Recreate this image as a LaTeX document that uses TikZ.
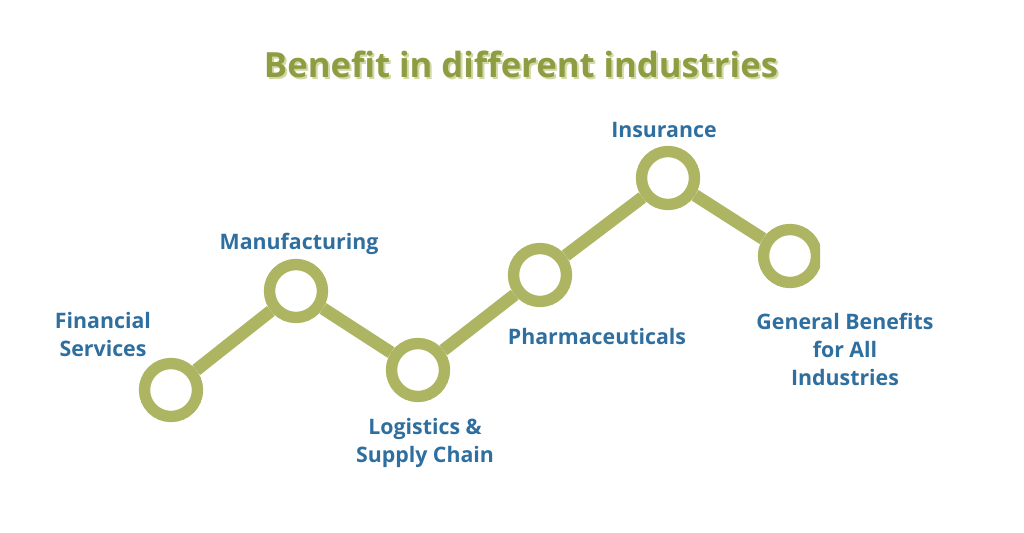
\documentclass[tikz,border=0pt]{standalone}
\usepackage{fontspec}
\setmainfont{Open Sans}
\definecolor{olive}{HTML}{ADB562}
\definecolor{titlegreen}{HTML}{8E9C42}
\definecolor{shadowgreen}{HTML}{D3D8A6}
\definecolor{labelblue}{HTML}{2F6F9F}
\tikzset{
    ring/.style={circle, draw=olive, line width=8.5pt, minimum size=39.75pt, inner sep=0pt, fill=white},
    link/.style={olive, line width=9.4pt},
    lbl/.style={text=labelblue, font=\bfseries\fontsize{16}{21}\selectfont, align=center, inner sep=0pt}
}
\begin{document}
\begin{tikzpicture}[x=0.75pt,y=-0.75pt]
    \useasboundingbox[fill=white] (0,0) rectangle (1024,532);

    \def\xa{171}  \def\ya{390}
    \def\xb{296}  \def\yb{291}
    \def\xc{418}  \def\yc{370}
    \def\xd{540}  \def\yd{275}
    \def\xe{668}  \def\ye{178}
    \def\xf{790}  \def\yf{256}

    % title with its shadow
    \node[text=shadowgreen, font=\bfseries\fontsize{26}{30}\selectfont] (titleshadow) at (523,66) {Benefit in different industries};
    \node[text=titlegreen, font=\bfseries\fontsize{26}{30}\selectfont] (title) at (521,64) {Benefit in different industries};

    \begin{scope}
    \clip (0,0) rectangle (820,532);
    \node[ring] (fin) at (\xa,\ya) {};
    \node[ring] (man) at (\xb,\yb) {};
    \node[ring] (log) at (\xc,\yc) {};
    \node[ring] (pha) at (\xd,\yd) {};
    \node[ring] (ins) at (\xe,\ye) {};
    \node[ring] (gen) at (\xf,\yf) {};

    \draw[link] (fin) -- (man);
    \draw[link] (man) -- (log);
    \draw[link] (log) -- (pha);
    \draw[link] (pha) -- (ins);
    \draw[link] (ins) -- (gen);
    \end{scope}

    \node[lbl] (finlbl) at (103,334) {Financial\\Services};
    \node[lbl] (manlbl) at (299,244) {Manufacturing};
    \node[lbl] (loglbl) at (425,443) {Logistics \&\\Supply Chain};
    \node[lbl] (phalbl) at (597,336) {Pharmaceuticals};
    \node[lbl] (inslbl) at (664,130) {Insurance};
    \node[lbl] (genlbl) at (845,349) {General Benefits\\for All\\Industries};
\end{tikzpicture}
\end{document}
